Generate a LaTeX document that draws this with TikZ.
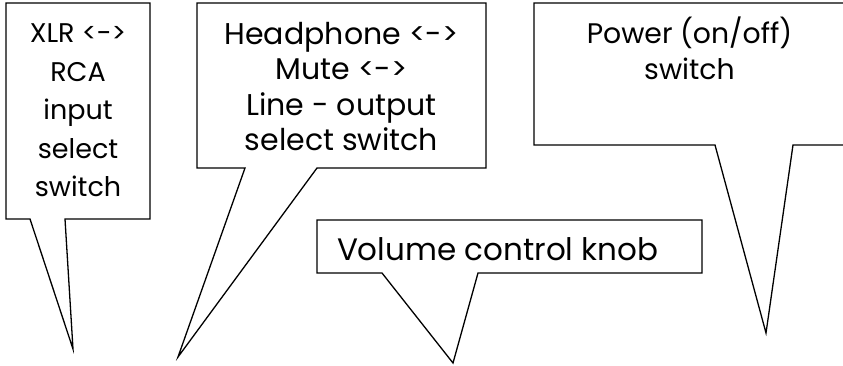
\documentclass[tikz,border=0pt]{standalone}
\usepackage{fontspec}
\setmainfont{Poppins}
\usetikzlibrary{positioning}

\begin{document}
\begin{tikzpicture}[x=1pt,y=-1pt,
    bubble/.style={draw=black,line width=1.3pt,line join=miter,fill=white},
    bubblearea/.style={inner sep=0pt,outer sep=0pt},
    tagtext/.style={inner sep=0pt,outer sep=0pt,align=center,text=black}]
    \useasboundingbox (0,0) rectangle (843,366);
    %%%%% THE BOXES
    \node[bubblearea,minimum width=144pt,minimum height=216pt] (XLR) at (78,111) {};
    \node[bubblearea,minimum width=289pt,minimum height=165pt] (PHONE) at (341.5,85.5) {};
    \node[bubblearea,minimum width=311pt,minimum height=142pt] (POWER) at (689.5,74) {};
    \node[bubblearea,minimum width=385pt,minimum height=53pt] (VOL) at (509.5,246.5) {};
    % Pointer ends
    \coordinate (XLRa) at (30,219);  \coordinate (XLRb) at (65,219);  \coordinate (XLRtip) at (73,349);
    \coordinate (PHONEa) at (245,168); \coordinate (PHONEb) at (317,168); \coordinate (PHONEtip) at (178,357);
    \coordinate (POWERa) at (715,145); \coordinate (POWERb) at (793,145); \coordinate (POWERtip) at (766,333);
    \coordinate (VOLa) at (382,273); \coordinate (VOLb) at (478,273); \coordinate (VOLtip) at (453,363);
    %%%%% THE OUTLINES
    \foreach \b in {XLR,PHONE,POWER,VOL}
      \draw[bubble] (\b.south west) -- (\b.north west) -- (\b.north east) -- (\b.south east)
        -- (\b b) -- (\b tip) -- (\b a) -- cycle;
    %%%%% THE TEXTS
    \node[tagtext,font={\fontsize{27}{38.5}\selectfont},below=21pt of XLR.north] (XLRtext)
      {XLR <->\\RCA\\input\\select\\switch};
    \node[tagtext,font={\fontsize{30}{35.5}\selectfont},below=19pt of PHONE.north] (PHONEtext)
      {Headphone <->\\Mute <->\\Line - output\\select switch};
    \node[tagtext,font={\fontsize{28.3}{36}\selectfont},below=14pt of POWER.north] (POWERtext)
      {Power (on/off)\\switch};
    \node[tagtext,font={\fontsize{31}{35}\selectfont},right=20pt of VOL.west,yshift=-3pt] (VOLtext)
      {Volume control knob};
\end{tikzpicture}
\end{document}
